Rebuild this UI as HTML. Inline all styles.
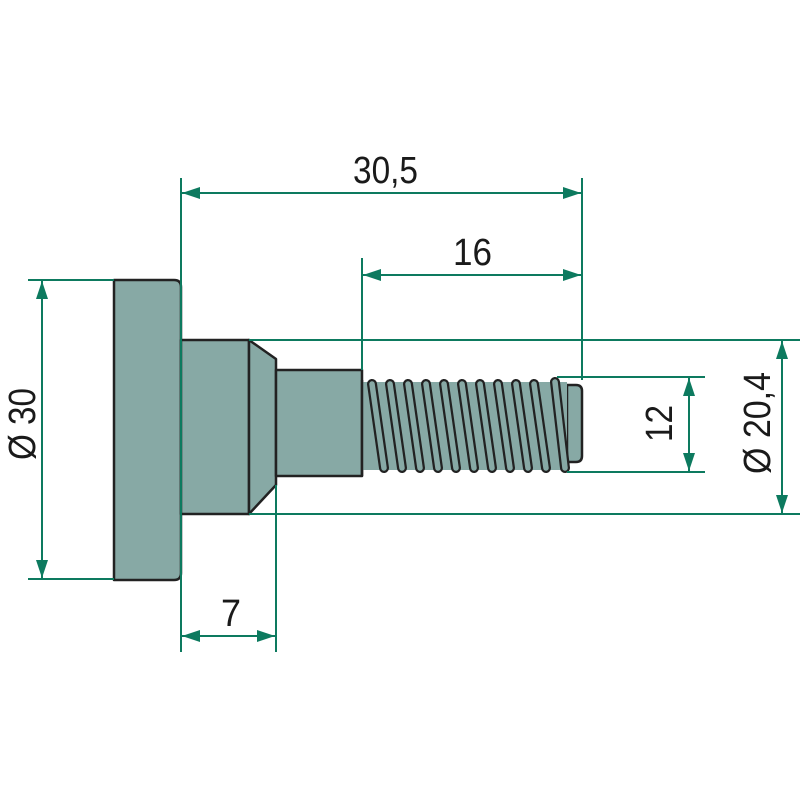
<!DOCTYPE html>
<html><head><meta charset="utf-8"><style>
html,body{margin:0;padding:0;background:#fff;width:800px;height:800px;overflow:hidden}
text{font-family:"Liberation Sans Narrow","Liberation Sans",sans-serif;fill:#1a1a1a}
</style></head><body>
<svg width="800" height="800" viewBox="0 0 800 800" xmlns="http://www.w3.org/2000/svg">
<defs>
<marker id="a" viewBox="0 0 18 12" refX="18" refY="6" markerWidth="18" markerHeight="12" markerUnits="userSpaceOnUse" orient="auto-start-reverse"><path d="M0,0 L18,6 L0,12 Z" fill="#0d7a5f"/></marker>
</defs>
<g fill="#87a9a5" stroke="#222" stroke-width="2.5" stroke-linejoin="round">
<path d="M114,280 H174 Q181,280 181,287 V573 Q181,580 174,580 H114 Z"/>
<rect x="181" y="340" width="68" height="174"/>
<path d="M249,340 L276,359 V485 L249,514 Z"/>
<rect x="276" y="370" width="86" height="106"/>
<path d="M567,385 H576 Q582,385 582,391 V456 Q582,462 576,462 H567 Z"/>
<rect x="362" y="382" width="205" height="88" stroke="none"/>
<path d="M362,380 V476"/>
</g>
<g stroke-linecap="round">
<g stroke="#222" stroke-width="10">
<line x1="372" y1="384" x2="384" y2="468"/><line x1="390" y1="384" x2="402" y2="468"/><line x1="408" y1="384" x2="420" y2="468"/><line x1="426" y1="384" x2="438" y2="468"/><line x1="444" y1="384" x2="456" y2="468"/><line x1="462" y1="384" x2="474" y2="468"/><line x1="480" y1="384" x2="492" y2="468"/><line x1="498" y1="384" x2="510" y2="468"/><line x1="516" y1="384" x2="528" y2="468"/><line x1="534" y1="384" x2="546" y2="468"/><line x1="555" y1="382" x2="565" y2="468"/>
</g>
<g stroke="#87a9a5" stroke-width="5.5">
<line x1="372" y1="384" x2="384" y2="468"/><line x1="390" y1="384" x2="402" y2="468"/><line x1="408" y1="384" x2="420" y2="468"/><line x1="426" y1="384" x2="438" y2="468"/><line x1="444" y1="384" x2="456" y2="468"/><line x1="462" y1="384" x2="474" y2="468"/><line x1="480" y1="384" x2="492" y2="468"/><line x1="498" y1="384" x2="510" y2="468"/><line x1="516" y1="384" x2="528" y2="468"/><line x1="534" y1="384" x2="546" y2="468"/><line x1="555" y1="382" x2="565" y2="468"/>
</g>
</g>
<g stroke="#0d7a5f" stroke-width="2" fill="none">
<line x1="181" y1="178" x2="181" y2="652"/>
<line x1="582" y1="178" x2="582" y2="380"/>
<line x1="362" y1="258" x2="362" y2="370"/>
<line x1="276" y1="485" x2="276" y2="652"/>
<line x1="28" y1="280" x2="114" y2="280"/>
<line x1="28" y1="579" x2="114" y2="579"/>
<line x1="249" y1="340" x2="800" y2="340"/>
<line x1="249" y1="514" x2="800" y2="514"/>
<line x1="557" y1="377" x2="705" y2="377"/>
<line x1="567" y1="472" x2="705" y2="472"/>
<line x1="182" y1="193" x2="581" y2="193" marker-start="url(#a)" marker-end="url(#a)"/>
<line x1="363" y1="275" x2="581" y2="275" marker-start="url(#a)" marker-end="url(#a)"/>
<line x1="182" y1="636" x2="275" y2="636" marker-start="url(#a)" marker-end="url(#a)"/>
<line x1="42" y1="281" x2="42" y2="578" marker-start="url(#a)" marker-end="url(#a)"/>
<line x1="782" y1="341" x2="782" y2="513" marker-start="url(#a)" marker-end="url(#a)"/>
<line x1="689" y1="378" x2="689" y2="471" marker-start="url(#a)" marker-end="url(#a)"/>
</g>
<text x="353" y="183" font-size="38" textLength="65" lengthAdjust="spacingAndGlyphs">30,5</text>
<text x="453" y="265" font-size="38" textLength="39" lengthAdjust="spacingAndGlyphs">16</text>
<text x="221" y="626" font-size="38" textLength="20" lengthAdjust="spacingAndGlyphs">7</text>
<text transform="translate(35,460) rotate(-90)" font-size="38" textLength="72" lengthAdjust="spacingAndGlyphs">Ø 30</text>
<text transform="translate(672,442) rotate(-90)" font-size="38" textLength="37" lengthAdjust="spacingAndGlyphs">12</text>
<text transform="translate(770,474) rotate(-90)" font-size="38" textLength="102" lengthAdjust="spacingAndGlyphs">Ø 20,4</text>
</svg>
</body></html>
